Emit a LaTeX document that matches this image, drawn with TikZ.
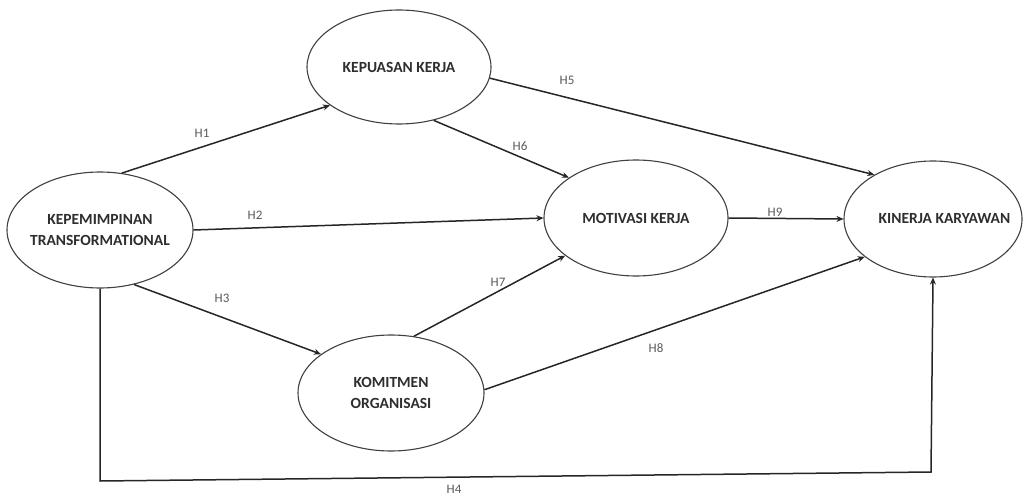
\documentclass[tikz,border=0pt]{standalone}
\usepackage{fontspec}
\setmainfont{Carlito}
\usetikzlibrary{arrows.meta,shapes.geometric}
\newcommand{\cbx}[1]{\makebox[0pt]{#1}}
\begin{document}
\begin{tikzpicture}[x=1pt,y=-1pt,
  var/.style={draw=black!75,line width=1.1pt,ellipse,fill=white,inner sep=0pt,
    font=\fontsize{15.5}{20.5}\selectfont\bfseries,text=black!82,align=center},
  conn/.style={draw=black!85,line width=1.5pt,-{Stealth[length=7pt,width=6pt]}},
  hl/.style={font=\fontsize{13}{15}\selectfont,text=black!65,inner sep=0pt}]
\useasboundingbox (0,0) rectangle (1024,497);
\node[var,minimum width=186pt,minimum height=116pt] (kt) at (100,230) {\cbx{KEPEMIMPINAN}\\\cbx{TRANSFORMATIONAL}};
\node[var,minimum width=184pt,minimum height=114pt] (kk) at (399,67) {\cbx{KEPUASAN KERJA}};
\node[var,minimum width=184pt,minimum height=116pt] (mk) at (636,218) {\cbx{MOTIVASI KERJA}};
\node[var,minimum width=178pt,minimum height=116pt] (ky) at (933,219) {\cbx{\hspace*{23pt}KINERJA KARYAWAN}};
\node[var,minimum width=186pt,minimum height=116pt] (ko) at (391,393) {\cbx{KOMITMEN}\\\cbx{ORGANISASI}};
\coordinate (c1) at (100,481);
\coordinate (c2) at (931,472);
\draw[conn] (kt.69) -- (kk.-151);
\draw[conn] (kt.east) -- (mk.west);
\draw[conn] (kt.-58) -- (ko.151);
\draw[conn] (kt.south) -- (c1) -- (c2) -- (ky.south);
\draw[conn] (kk.-7) -- (ky.143);
\draw[conn] (kk.-57) -- (mk.149);
\draw[conn] (ko.68) -- (mk.-152);
\draw[conn] (ko.2) -- (ky.-151);
\draw[conn] (mk.east) -- (ky.west);
\node[hl] (h1) at (202,133) {H1};
\node[hl] (h2) at (255,215) {H2};
\node[hl] (h3) at (222,298) {H3};
\node[hl] (h4) at (454,489) {H4};
\node[hl] (h5) at (567,80) {H5};
\node[hl] (h6) at (520,146) {H6};
\node[hl] (h7) at (498,282) {H7};
\node[hl] (h8) at (656,348) {H8};
\node[hl] (h9) at (775,212) {H9};
\end{tikzpicture}
\end{document}
